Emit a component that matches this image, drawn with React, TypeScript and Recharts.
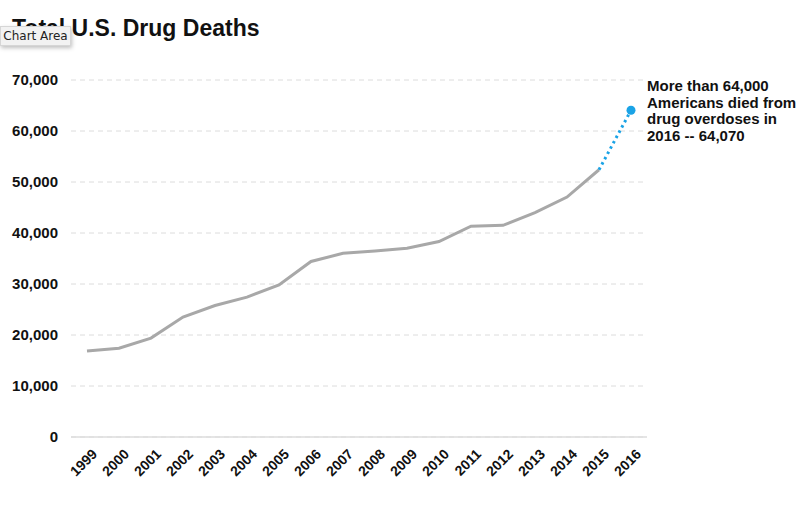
import React from "react";
import { LineChart, Line, XAxis, YAxis, CartesianGrid } from "recharts";

const years = [
  "1999", "2000", "2001", "2002", "2003", "2004", "2005", "2006", "2007",
  "2008", "2009", "2010", "2011", "2012", "2013", "2014", "2015", "2016",
];
const deaths = [
  16849, 17415, 19394, 23518, 25785, 27424, 29813, 34425, 36010,
  36450, 37004, 38329, 41340, 41502, 43982, 47055, 52404, null,
];
const latest = [
  null, null, null, null, null, null, null, null, null,
  null, null, null, null, null, null, null, 52404, 64070,
];
const yTicks = [0, 10000, 20000, 30000, 40000, 50000, 60000, 70000];

const data = years.map((year, i) => ({ year, deaths: deaths[i], latest: latest[i] }));

const FONT = "'Liberation Sans', Arial, Helvetica, sans-serif";

const XTick = (props: any) => {
  const { x, y, payload } = props;
  return (
    <g transform={`translate(${x + 4},${y + 3})`}>
      <text
        textAnchor="end"
        transform="rotate(-45)"
        dy={10}
        fontFamily={FONT}
        fontWeight="bold"
        fontSize={14}
        fill="#111"
      >
        {payload.value}
      </text>
    </g>
  );
};

const EndDot = (props: any) => {
  const { cx, cy, index } = props;
  if (index !== years.length - 1) return <g key={index} />;
  return <circle key={index} cx={cx} cy={cy} r={4.5} fill="#1aa3e6" />;
};

export default function App() {
  return (
    <div style={{ position: "absolute", left: 0, top: 0, width: 800, height: 505, background: "#fff", fontFamily: FONT }}>
      <div style={{ position: "absolute", left: 12, top: 15, fontSize: 23, fontWeight: "bold", color: "#111" }}>
        Total U.S. Drug Deaths
      </div>
      <div
        style={{
          position: "absolute",
          left: 0,
          top: 26,
          width: 71,
          height: 20,
          background: "#f2f2f2",
          border: "1px solid #d6d6d6",
          boxShadow: "1px 2px 4px rgba(0,0,0,0.25)",
          fontSize: 12,
          lineHeight: "18px",
          textAlign: "center",
          color: "#222",
          fontFamily: "'DejaVu Sans', sans-serif",
          zIndex: 2,
          boxSizing: "border-box",
        }}
      >
        Chart Area
      </div>
      <div
        style={{
          position: "absolute",
          left: 647,
          top: 78,
          fontSize: 15,
          fontWeight: "bold",
          lineHeight: "16.5px",
          color: "#111",
        }}
      >
        More than 64,000
        <br />
        Americans died from
        <br />
        drug overdoses in
        <br />
        2016 -- 64,070
      </div>
      <LineChart width={800} height={505} data={data} margin={{ top: 80, right: 153, bottom: 8, left: 11 }}>
        <CartesianGrid vertical={false} stroke="#dcdcdc" strokeDasharray="5 4" />
        <XAxis
          dataKey="year"
          interval={0}
          padding={{ left: 16, right: 16 }}
          height={60}
          axisLine={{ stroke: "#dcdcdc", strokeWidth: 1.5 }}
          tickLine={false}
          tick={<XTick />}
        />
        <YAxis
          width={60}
          domain={[0, 70000]}
          ticks={yTicks}
          interval={0}
          axisLine={false}
          tickLine={false}
          tickMargin={7}
          tickFormatter={(v: number) => v.toLocaleString("en-US")}
          tick={{ fontFamily: FONT, fontWeight: "bold", fontSize: 15, fill: "#111" }}
        />
        <Line
          type="linear"
          dataKey="deaths"
          stroke="#a8a8a8"
          strokeWidth={3}
          dot={false}
          isAnimationActive={false}
        />
        <Line
          type="linear"
          dataKey="latest"
          stroke="#1aa3e6"
          strokeWidth={3}
          strokeDasharray="2.5 3.5"
          dot={<EndDot />}
          isAnimationActive={false}
        />
      </LineChart>
    </div>
  );
}
